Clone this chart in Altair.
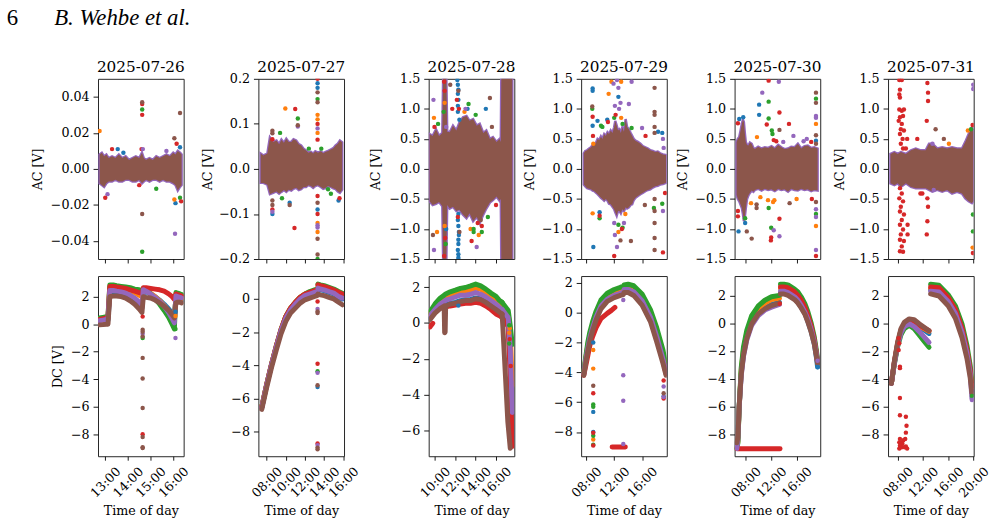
import altair as alt
import pandas as pd

SERIES = ["blue", "orange", "green", "red", "purple", "brown"]
COLORS = ["#1f77b4", "#ff7f0e", "#2ca02c", "#d62728", "#9467bd", "#8c564b"]
DAYS = ["2025-07-26", "2025-07-27", "2025-07-28", "2025-07-29", "2025-07-30", "2025-07-31"]

X_DOMAINS = [[12.68, 16.46], [7.14, 16.07], [9.38, 17.8], [7.25, 19.55], [6.24, 19.72], [6.48, 20.02]]
X_TICKS = [[13, 14, 15, 16], [8, 10, 12, 14, 16], [10, 12, 14, 16], [8, 12, 16], [8, 12, 16], [8, 12, 16, 20]]
AC_DOMAINS = [[-0.05, 0.05], [-0.2, 0.2], [-1.5, 1.5], [-1.5, 1.5], [-1.5, 1.5], [-1.5, 1.5]]
AC_BIG = [-1.5, -1.0, -0.5, 0.0, 0.5, 1.0, 1.5]
AC_TICKS = [[-0.04, -0.02, 0.0, 0.02, 0.04], [-0.2, -0.1, 0.0, 0.1, 0.2], AC_BIG, AC_BIG, AC_BIG, AC_BIG]
AC_FORMATS = [".2f", ".1f", ".1f", ".1f", ".1f", ".1f"]
DC_DOMAINS = [[-9.6, 3.5], [-9.47, 1.38], [-7.44, 2.62], [-9.62, 2.45], [-9.56, 3.39], [-9.55, 3.44]]
DC_TICKS = [[-8, -6, -4, -2, 0, 2], [-8, -6, -4, -2, 0], [-6, -4, -2, 0, 2],
            [-8, -6, -4, -2, 0, 2], [-8, -6, -4, -2, 0, 2], [-8, -6, -4, -2, 0, 2]]

# ---------------- AC envelopes (dense band) ----------------
AC26_T = [12.75, 12.85, 12.95, 13.05, 13.15, 13.3, 13.45, 13.6, 13.75, 13.9, 14.05, 14.2, 14.35, 14.5, 14.62,
          14.7, 14.8, 14.95, 15.1, 15.25, 15.4, 15.55, 15.7, 15.85, 16.0, 16.1, 16.2, 16.3, 16.37]
AC26_HI = [0.008, 0.009, 0.007, 0.008, 0.006, 0.007, 0.006, 0.008, 0.006, 0.007, 0.005, 0.006, 0.007, 0.006, 0.009,
           0.006, 0.005, 0.006, 0.005, 0.007, 0.006, 0.007, 0.008, 0.007, 0.009, 0.008, 0.010, 0.009, 0.008]
AC26_LO = [-0.008, -0.009, -0.010, -0.008, -0.007, -0.007, -0.006, -0.007, -0.007, -0.006, -0.006, -0.007, -0.007,
           -0.006, -0.008, -0.007, -0.006, -0.007, -0.006, -0.006, -0.007, -0.006, -0.007, -0.007, -0.008, -0.009,
           -0.012, -0.010, -0.009]

AC27_T = [7.38, 7.66, 8.07, 8.34, 8.68, 9.03, 9.3, 9.54, 9.8, 10.05, 10.3, 10.57, 10.8, 11.08, 11.35, 11.6, 11.85,
          12.11, 12.35, 12.62, 12.85, 13.07, 13.35, 13.65, 13.9, 14.16, 14.4, 14.68, 14.95, 15.19, 15.42, 15.64, 15.88]
AC27_HI = [0.034, 0.03, 0.034, 0.07, 0.06, 0.063, 0.055, 0.065, 0.058, 0.067, 0.06, 0.06, 0.066, 0.063, 0.055,
           0.052, 0.045, 0.041, 0.036, 0.038, 0.034, 0.039, 0.036, 0.039, 0.035, 0.038, 0.04, 0.043, 0.046, 0.052,
           0.056, 0.063, 0.059]
AC27_LO = [-0.031, -0.031, -0.035, -0.056, -0.053, -0.05, -0.055, -0.051, -0.047, -0.051, -0.046, -0.048, -0.044,
           -0.042, -0.047, -0.045, -0.04, -0.04, -0.036, -0.038, -0.042, -0.038, -0.036, -0.04, -0.044, -0.042,
           -0.038, -0.04, -0.043, -0.045, -0.05, -0.053, -0.046]

AC28_T = [9.47, 9.77, 10.1, 10.4, 10.72, 10.8, 11.12, 11.2, 11.45, 11.77, 12.1, 12.4, 12.75, 13.1, 13.4, 13.75,
          14.1, 14.4, 14.75, 15.05, 15.4, 15.7, 16.05, 16.35, 16.47, 16.52, 17.6]
AC28_HI = [0.58, 0.55, 0.66, 0.55, 0.6, 1.5, 1.5, 0.62, 0.61, 0.72, 0.64, 0.77, 0.86, 0.88, 0.8, 0.83, 0.72, 0.75,
           0.6, 0.64, 0.5, 0.53, 0.45, 0.5, 0.45, 1.5, 1.5]
AC28_LO = [-0.54, -0.6, -0.58, -0.55, -0.62, -1.5, -1.5, -0.6, -0.66, -0.63, -0.7, -0.68, -0.76, -0.82, -0.74, -0.87,
           -0.8, -0.9, -0.76, -0.66, -0.56, -0.52, -0.46, -0.53, -0.5, -1.5, -1.5]

AC29_T = [7.63, 7.85, 8.1, 8.4, 8.67, 8.9, 9.14, 9.4, 9.61, 9.85, 10.09, 10.3, 10.56, 10.8, 11.03, 11.25, 11.5,
          11.75, 11.98, 12.15, 12.36, 12.55, 12.74, 12.95, 13.16, 13.4, 13.64, 13.85, 14.11, 14.35, 14.58, 14.8,
          15.06, 15.4, 15.77, 16.1, 16.48, 16.85, 17.19, 17.55, 17.9, 18.25, 18.6, 19.0, 19.45]
AC29_HI = [0.26, 0.3, 0.31, 0.34, 0.36, 0.4, 0.42, 0.44, 0.5, 0.48, 0.54, 0.5, 0.58, 0.55, 0.61, 0.58, 0.64,
           0.6, 0.69, 0.8, 0.72, 0.64, 0.66, 0.6, 0.69, 0.62, 0.83, 0.7, 0.66, 0.6, 0.55, 0.5, 0.47, 0.45, 0.42,
           0.38, 0.36, 0.34, 0.31, 0.3, 0.28, 0.29, 0.26, 0.24, 0.23]
AC29_LO = [-0.26, -0.29, -0.32, -0.33, -0.34, -0.36, -0.37, -0.4, -0.42, -0.45, -0.48, -0.5, -0.53, -0.5, -0.53,
           -0.58, -0.59, -0.63, -0.67, -0.72, -0.78, -0.7, -0.7, -0.74, -0.67, -0.7, -0.64, -0.66, -0.64, -0.6,
           -0.59, -0.52, -0.48, -0.45, -0.42, -0.4, -0.37, -0.35, -0.34, -0.31, -0.29, -0.28, -0.26, -0.25, -0.23]

AC30_T = [6.55, 6.75, 6.97, 7.2, 7.38, 7.55, 7.7, 7.85, 8.0, 8.2, 8.42, 8.65, 8.93, 9.2, 9.45, 9.95, 10.49, 11.0,
          11.53, 12.05, 12.57, 13.1, 13.6, 14.1, 14.65, 15.15, 15.68, 16.2, 16.72, 17.25, 17.76, 18.3, 18.79, 19.31]
AC30_HI = [0.45, 0.5, 0.53, 0.65, 0.75, 0.82, 0.78, 0.6, 0.45, 0.4, 0.39, 0.44, 0.42, 0.35, 0.33, 0.37, 0.34, 0.36,
           0.35, 0.38, 0.34, 0.4, 0.36, 0.33, 0.34, 0.37, 0.36, 0.42, 0.34, 0.38, 0.39, 0.35, 0.36, 0.34]
AC30_LO = [-0.43, -0.5, -0.54, -0.6, -0.65, -0.75, -0.87, -0.8, -0.66, -0.5, -0.44, -0.4, -0.36, -0.38, -0.35,
           -0.33, -0.36, -0.33, -0.35, -0.34, -0.37, -0.33, -0.35, -0.34, -0.38, -0.33, -0.35, -0.36, -0.33, -0.35,
           -0.34, -0.37, -0.35, -0.36]

AC31_T = [6.86, 7.48, 8.0, 8.52, 9.3, 10.1, 10.86, 11.65, 12.43, 12.96, 13.48, 14.26, 15.04, 15.82, 16.6, 17.38,
          18.17, 18.69, 19.22, 19.74, 19.95]
AC31_HI = [0.25, 0.28, 0.25, 0.28, 0.25, 0.31, 0.34, 0.31, 0.31, 0.42, 0.42, 0.34, 0.36, 0.34, 0.36, 0.34, 0.34,
           0.45, 0.58, 0.69, 0.66]
AC31_LO = [-0.24, -0.27, -0.24, -0.3, -0.24, -0.3, -0.32, -0.32, -0.32, -0.35, -0.38, -0.35, -0.38, -0.35, -0.41,
           -0.38, -0.41, -0.49, -0.54, -0.57, -0.54]

# ---------------- AC outliers ----------------
AC26_PTS = [(12.75, 0.021, "orange"), (13.0, -0.016, "red"), (13.1, -0.014, "purple"), (13.3, 0.011, "red"),
            (13.55, 0.011, "blue"), (13.8, 0.009, "blue"), (14.6, 0.011, "red"), (14.66, 0.011, "purple"),
            (14.5, -0.009, "red"), (15.25, -0.011, "green"), (15.7, 0.010, "purple"), (16.05, -0.017, "orange"),
            (16.1, -0.019, "blue"), (16.08, -0.036, "purple"), (16.3, -0.016, "green"), (16.35, -0.018, "red"),
            (16.15, 0.014, "red"), (16.3, 0.012, "blue"), (16.05, 0.017, "brown"), (16.3, 0.031, "brown"),
            (14.63, 0.033, "green"), (14.63, 0.030, "red"), (14.63, 0.036, "red"), (14.63, 0.037, "brown"),
            (14.63, -0.025, "brown"), (14.63, -0.046, "green")]
AC27_PTS = [(8.6, 0.085, "brown"), (8.6, 0.079, "brown"), (8.6, 0.066, "red"), (8.6, -0.07, "brown"),
            (8.6, -0.08, "brown"), (8.6, -0.09, "red"), (8.6, -0.1, "blue"), (8.6, -0.095, "purple"),
            (9.95, 0.134, "orange"), (9.4, 0.08, "green"), (10.98, 0.133, "red"), (11.25, 0.112, "green"),
            (11.25, 0.097, "brown"), (11.25, 0.094, "purple"), (10.9, -0.131, "red"), (10.4, -0.075, "blue"),
            (10.4, -0.08, "brown"), (9.6, -0.065, "green"), (13.31, 0.2, "red"), (13.31, 0.19, "blue"),
            (13.31, 0.18, "blue"), (13.31, 0.17, "brown"), (13.31, 0.155, "green"), (13.31, 0.148, "brown"),
            (13.31, 0.12, "orange"), (13.31, 0.11, "orange"), (13.31, 0.1, "red"), (13.31, 0.09, "purple"),
            (13.31, 0.08, "orange"), (13.31, 0.065, "red"), (13.31, -0.06, "red"), (13.31, -0.075, "brown"),
            (13.31, -0.09, "blue"), (13.31, -0.1, "red"), (13.31, -0.12, "orange"), (13.31, -0.125, "purple"),
            (13.31, -0.13, "purple"), (13.31, -0.14, "orange"), (13.31, -0.155, "brown"), (13.31, -0.19, "brown"),
            (13.31, -0.2, "green"), (14.4, -0.045, "green"), (14.7, -0.055, "green"), (15.5, -0.07, "blue"),
            (15.6, -0.065, "red"), (13.7, 0.045, "green"), (12.4, 0.045, "green")]
AC28_PTS = [(9.85, 1.15, "purple"), (9.9, 0.85, "orange"), (9.95, 0.7, "red"), (9.8, -1.1, "brown"),
            (9.9, -1.35, "purple"), (10.2, -1.05, "orange"), (10.3, 0.75, "green"), (10.9, 1.45, "red"),
            (10.95, 1.3, "red"), (10.95, 1.1, "orange"), (10.85, 0.95, "green"), (11.0, -1.15, "red"),
            (11.05, -1.25, "green"), (10.9, -1.45, "red"), (10.95, -0.95, "orange"), (11.5, 1.4, "brown"),
            (11.7, 1.0, "red"), (12.2, 1.48, "blue"), (12.25, 1.4, "blue"), (12.3, 1.32, "blue"),
            (12.25, 1.25, "blue"), (12.3, 1.15, "blue"), (12.25, 1.05, "blue"), (12.25, 0.95, "blue"),
            (12.4, 0.82, "blue"), (12.3, 1.3, "brown"), (12.15, 1.15, "red"), (12.35, 1.0, "red"),
            (12.3, -0.75, "blue"), (12.25, -0.85, "blue"), (12.3, -0.95, "blue"), (12.35, -1.05, "blue"),
            (12.35, -1.1, "blue"), (12.3, -1.18, "blue"), (12.3, -1.25, "blue"), (12.25, -1.35, "blue"),
            (12.3, -1.42, "blue"), (12.3, -1.48, "blue"), (12.25, -0.8, "red"), (12.4, -1.05, "brown"),
            (12.9, 0.95, "orange"), (13.2, 1.0, "blue"), (13.3, 1.08, "green"), (13.0, 1.0, "purple"),
            (13.8, -1.0, "green"), (13.8, -1.05, "green"), (14.1, -1.3, "purple"), (14.2, -0.9, "red"),
            (14.5, -0.85, "brown"), (14.0, 0.9, "green"), (14.3, -1.1, "orange"), (15.0, 1.0, "blue"),
            (15.4, 1.18, "brown"), (15.6, 0.7, "brown"), (15.2, -0.8, "green"), (16.0, -0.6, "red"),
            (13.6, -1.2, "red"), (11.1, -1.0, "blue"), (11.1, 0.7, "purple"), (14.6, -0.95, "red"),
            (14.6, -1.05, "green"), (13.5, -1.0, "orange")]
AC29_PTS = [(8.9, 1.34, "blue"), (8.9, 1.30, "blue"), (8.85, 1.04, "brown"), (8.85, 1.0, "green"),
            (8.9, 0.87, "red"), (8.9, 0.72, "blue"), (8.95, 0.55, "red"), (9.0, 0.42, "orange"),
            (8.9, -0.74, "orange"), (9.0, -1.3, "blue"), (9.9, -0.72, "blue"), (9.9, -0.78, "red"),
            (9.9, -0.82, "green"), (9.6, 0.8, "blue"), (10.1, 0.72, "green"), (10.3, 0.7, "green"),
            (11.0, 0.82, "blue"), (11.1, 0.78, "red"), (11.2, 1.25, "orange"), (11.6, 1.45, "orange"),
            (11.9, 1.42, "purple"), (12.4, 1.48, "purple"), (12.6, 1.35, "purple"), (12.6, 1.2, "blue"),
            (12.1, 1.05, "purple"), (12.7, 1.0, "purple"), (12.9, 1.1, "purple"), (12.2, 0.9, "red"),
            (12.0, 0.85, "green"), (13.0, 0.85, "orange"), (13.2, 0.75, "green"), (12.0, -0.9, "purple"),
            (12.1, -1.1, "purple"), (12.4, -1.3, "purple"), (12.0, -1.45, "red"), (12.6, -1.05, "orange"),
            (12.6, -0.93, "green"), (13.1, -1.0, "red"), (13.2, -0.98, "green"), (12.9, -1.19, "brown"),
            (13.4, -0.9, "purple"), (13.6, -0.75, "orange"), (14.4, -1.2, "brown"), (14.5, 0.68, "green"),
            (14.5, 1.45, "purple"), (14.1, 1.08, "purple"), (13.0, 1.45, "orange"), (16.0, 0.68, "purple"),
            (16.4, -0.6, "brown"), (16.5, 0.55, "red"), (17.8, 1.35, "brown"), (17.8, 0.95, "brown"),
            (17.8, 0.9, "brown"), (17.8, 0.7, "brown"), (17.8, 0.6, "brown"), (17.8, -0.5, "brown"),
            (17.8, -0.7, "brown"), (17.8, -0.9, "brown"), (17.8, -1.15, "brown"), (17.8, -1.35, "brown"),
            (17.7, -0.65, "green"), (18.3, 0.62, "blue"), (18.9, 0.6, "blue"), (19.0, 0.5, "purple"),
            (19.1, 0.35, "purple"), (19.0, -0.7, "purple"), (19.3, -0.4, "red"), (19.0, -1.39, "red"),
            (18.9, -0.58, "green")]
AC30_PTS = [(6.76, 0.76, "red"), (6.97, 0.83, "blue"), (7.6, 0.86, "blue"), (6.76, -0.7, "red"),
            (6.76, -0.79, "red"), (6.86, -1.04, "blue"), (7.9, -0.82, "green"), (7.9, -0.9, "blue"),
            (8.16, -1.04, "brown"), (8.83, -0.57, "orange"), (9.7, -0.59, "brown"), (9.7, -0.65, "brown"),
            (8.93, -1.16, "brown"), (9.76, 0.53, "orange"), (10.1, 0.9, "blue"), (10.1, 1.07, "blue"),
            (10.6, 1.27, "purple"), (11.6, 1.12, "green"), (11.6, 0.84, "green"), (12.1, 0.64, "green"),
            (12.2, 0.58, "green"), (11.3, 0.74, "red"), (11.6, 1.47, "red"), (12.0, -0.98, "green"),
            (11.6, -0.65, "green"), (12.0, -1.14, "red"), (11.95, -1.19, "red"), (12.4, -1.02, "purple"),
            (13.2, 1.45, "purple"), (13.3, 0.94, "red"), (13.3, 0.65, "brown"), (13.3, -0.83, "red"),
            (13.3, -1.12, "purple"), (14.8, 0.75, "red"), (12.8, 0.46, "red"), (11.5, -0.52, "orange"),
            (12.5, -0.52, "orange"), (14.9, -0.57, "brown"), (15.5, 0.55, "purple"), (13.9, 0.45, "purple"),
            (19.05, 1.27, "brown"), (19.05, 1.17, "green"), (19.05, 1.1, "brown"), (19.05, 0.88, "purple"),
            (19.05, 0.85, "purple"), (19.05, 0.75, "orange"), (19.05, 0.56, "brown"), (19.05, 0.47, "blue"),
            (19.05, 0.42, "brown"), (19.05, -0.55, "brown"), (19.05, -0.67, "purple"), (19.05, -0.75, "green"),
            (19.05, -0.8, "purple"), (19.05, -0.95, "orange"), (19.05, -1.35, "purple"), (19.05, -1.45, "red"),
            (16.0, -0.5, "orange"), (17.6, 0.5, "purple"), (18.3, 0.45, "red"), (10.3, -0.47, "orange"),
            (12.3, -0.55, "orange"), (12.4, 0.48, "red"), (17.1, 0.46, "purple"), (18.4, -0.5, "red")]
AC31_PTS = [(8.26, 1.48, "red"), (8.65, 1.48, "red"), (8.36, 1.32, "red"), (8.26, 1.24, "red"),
            (8.36, 1.19, "red"), (8.26, 0.99, "red"), (8.65, 0.97, "red"), (8.99, 0.99, "red"),
            (8.85, 0.88, "red"), (8.36, 0.86, "red"), (8.16, 0.8, "red"), (8.65, 0.75, "red"),
            (8.5, 0.66, "red"), (8.99, 0.64, "red"), (8.36, 0.58, "red"), (8.78, 0.5, "red"),
            (8.5, 0.42, "red"), (8.85, 0.34, "red"), (9.3, 0.34, "red"), (8.36, -0.32, "red"),
            (8.65, -0.41, "red"), (8.26, -0.49, "red"), (8.85, -0.54, "red"), (8.5, -0.63, "red"),
            (8.36, -0.71, "red"), (8.99, -0.76, "red"), (8.65, -0.85, "red"), (8.36, -0.93, "red"),
            (8.85, -1.01, "red"), (8.5, -1.09, "red"), (8.36, -1.18, "red"), (8.99, -1.2, "red"),
            (8.65, -1.29, "red"), (8.36, -1.37, "red"), (8.85, -1.38, "red"), (9.57, -1.09, "red"),
            (9.57, -0.93, "red"), (9.5, 0.5, "red"), (12.7, 1.43, "red"), (12.8, 1.27, "red"),
            (12.8, 1.13, "red"), (12.6, 0.8, "red"), (12.7, -0.49, "red"), (12.8, -0.63, "red"),
            (12.7, -0.87, "red"), (12.6, -1.09, "red"), (11.6, -0.41, "red"), (11.9, -0.41, "red"),
            (11.1, 0.5, "red"), (14.0, 0.66, "brown"), (13.5, 0.42, "purple"), (13.7, -0.35, "purple"),
            (15.3, 0.5, "brown"), (16.1, 0.42, "orange"), (19.95, 1.4, "purple"), (19.95, 1.33, "purple"),
            (19.9, -0.76, "green"), (19.9, -1.04, "green"), (19.85, -1.31, "orange"), (19.9, -1.4, "red"),
            (19.85, 0.73, "red"), (19.6, 0.66, "green"), (19.1, 0.64, "orange")]

# ---------------- DC curves: (times, {series: values}) per segment ----------------
DC26_T = [12.75, 12.9, 13.05, 13.12, 13.2, 13.35, 13.5, 13.7, 13.9, 14.1, 14.3, 14.5, 14.62, 14.68, 14.8, 15.0,
          15.2, 15.4, 15.6, 15.8, 15.95, 16.05, 16.12, 16.2, 16.3, 16.37]
DC26_V = {
    "blue": [0.1, 0.15, 0.2, 0.3, 2.25, 2.3, 2.25, 2.2, 2.1, 1.95, 1.75, 1.45, 1.2, 2.4, 2.35, 2.2, 2.0, 1.75, 1.45,
             1.1, 0.8, 0.6, 1.9, 1.85, 1.8, 1.75],
    "orange": [0.2, 0.25, 0.3, 0.4, 2.65, 2.65, 2.6, 2.55, 2.5, 2.4, 2.3, 2.1, 2.0, 2.55, 2.45, 2.25, 2.0, 1.7, 1.35,
               0.95, 0.6, 0.4, 2.0, 1.95, 1.9, 1.85],
    "green": [0.45, 0.5, 0.55, 0.6, 2.85, 2.85, 2.8, 2.75, 2.7, 2.65, 2.55, 2.5, 2.45, 2.6, 2.5, 2.2, 1.85, 1.45, 1.0,
              0.5, 0.0, -0.35, 2.3, 2.25, 2.2, 2.15],
    "red": [0.35, 0.4, 0.45, 0.5, 2.75, 2.75, 2.7, 2.65, 2.6, 2.5, 2.4, 2.3, 2.25, 2.65, 2.65, 2.6, 2.55, 2.5, 2.4,
            2.2, 2.0, 1.8, 2.2, 2.15, 2.1, 2.05],
    "purple": [0.25, 0.3, 0.35, 0.4, 2.45, 2.45, 2.4, 2.35, 2.25, 2.1, 1.9, 1.6, 1.35, 2.5, 2.4, 2.2, 1.95, 1.65, 1.3,
               0.85, 0.4, 0.1, 2.05, 2.0, 1.95, 1.9],
    "brown": [-0.05, -0.03, 0.0, 0.0, 2.0, 2.05, 2.05, 2.0, 1.9, 1.7, 1.45, 1.1, 0.85, 2.0, 1.95, 1.9, 1.75, 1.55, 1.3,
              1.0, 0.7, 0.45, 1.55, 1.6, 1.6, 1.55],
}
DC26_SEGS = [(DC26_T, DC26_V)]

DC27A_T = [7.49, 8.0, 8.5, 9.0, 9.5, 10.0, 10.5, 11.0, 11.5, 12.0, 12.5, 13.0, 13.25]
DC27A_V = {
    "blue": [-6.55, -5.2, -4.0, -2.9, -1.9, -1.1, -0.6, -0.25, 0.05, 0.25, 0.35, 0.45, 0.5],
    "orange": [-6.5, -5.15, -3.95, -2.85, -1.85, -1.05, -0.55, -0.2, 0.1, 0.3, 0.4, 0.5, 0.55],
    "green": [-6.5, -5.15, -3.95, -2.85, -1.85, -1.05, -0.55, -0.2, 0.1, 0.3, 0.45, 0.55, 0.6],
    "red": [-6.5, -5.15, -3.95, -2.85, -1.85, -1.05, -0.55, -0.2, 0.1, 0.3, 0.4, 0.5, 0.55],
    "purple": [-6.55, -5.2, -4.0, -2.9, -1.9, -1.15, -0.65, -0.3, 0.0, 0.2, 0.3, 0.4, 0.45],
    "brown": [-6.65, -5.35, -4.15, -3.1, -2.1, -1.35, -0.85, -0.55, -0.25, -0.05, 0.05, 0.15, 0.2],
}
DC27B_T = [13.35, 13.6, 14.0, 14.5, 15.0, 15.5, 15.9]
DC27B_V = {
    "blue": [0.6, 0.55, 0.5, 0.4, 0.3, 0.1, 0.0],
    "orange": [0.75, 0.7, 0.65, 0.55, 0.45, 0.3, 0.2],
    "green": [0.9, 0.85, 0.8, 0.7, 0.6, 0.45, 0.35],
    "red": [0.85, 0.8, 0.75, 0.65, 0.55, 0.4, 0.3],
    "purple": [0.65, 0.6, 0.55, 0.45, 0.35, 0.15, 0.05],
    "brown": [0.3, 0.25, 0.2, 0.1, 0.0, -0.2, -0.35],
}
DC27_SEGS = [(DC27A_T, DC27A_V), (DC27B_T, DC27B_V)]

DC28_T = [9.45, 9.52, 10.0, 10.5, 10.9, 10.95, 11.0, 11.05, 11.5, 12.0, 12.5, 13.0, 13.5, 14.0, 14.5, 15.0, 15.5,
          16.0, 16.35, 16.6]
DC28_V = {
    "blue": [0.25, 0.28, 0.6, 0.85, 1.0, 1.0, 1.0, 1.0, 1.1, 1.15, 1.25, 1.3, 1.3, 1.4, 1.35, 1.2, 1.0, 0.8, 0.65, 0.55],
    "orange": [0.5, 0.55, 0.9, 1.2, 1.38, 1.4, 1.42, 1.45, 1.58, 1.65, 1.75, 1.78, 1.85, 1.95, 1.88, 1.72, 1.5, 1.3,
               1.1, 1.0],
    "green": [0.6, 0.64, 1.06, 1.38, 1.55, 1.58, 1.6, 1.62, 1.74, 1.83, 1.93, 1.98, 2.07, 2.17, 2.07, 1.89, 1.67,
              1.49, 1.25, 1.15],
    "purple": [0.4, 0.42, 0.75, 1.05, 1.2, 1.22, 1.25, 1.27, 1.35, 1.45, 1.55, 1.55, 1.6, 1.7, 1.6, 1.45, 1.25, 1.05,
               0.85, 0.75],
    "brown": [0.18, 0.2, 0.55, 0.8, 0.95, -0.55, -0.5, 0.95, 1.05, 1.1, 1.2, 1.25, 1.25, 1.35, 1.3, 1.15, 0.95, 0.75,
              0.6, 0.5],
}
DC28R1_T = [9.52, 9.6, 9.7, 9.78]
DC28R1_V = {"red": [-0.22, -0.15, -0.08, -0.02]}
DC28R2_T = [11.1, 11.5, 12.0, 12.5, 13.0, 13.5, 14.0, 14.5, 15.0, 15.5, 16.0, 16.35, 16.6]
DC28R2_V = {"red": [0.9, 0.95, 1.0, 1.05, 1.1, 1.1, 1.15, 1.1, 0.95, 0.75, 0.5, 0.4, 0.3]}
DC28D_T = [16.6, 17.2, 17.4, 17.6]
DC28D_V = {
    "blue": [0.55, 0.1, -2.5, -6.5],
    "orange": [1.0, 0.5, -0.4, -3.5],
    "green": [1.15, 0.7, -0.15, -1.2],
    "red": [0.3, -0.2, -3.0, -6.9],
    "purple": [0.75, 0.3, -1.5, -5.0],
}
DC28B_T = [16.6, 16.68, 16.94, 17.16, 17.4]
DC28B_V = {"brown": [0.5, -0.3, -3.1, -5.5, -7.0]}
DC28_SEGS = [(DC28_T, DC28_V), (DC28R1_T, DC28R1_V), (DC28R2_T, DC28R2_V), (DC28D_T, DC28D_V), (DC28B_T, DC28B_V)]

DC29_T = [7.63, 7.9, 8.2, 8.5, 8.9, 9.4, 10.1, 11.0, 12.0, 12.9, 13.3, 13.4, 14.0, 14.8, 16.0, 17.2, 18.1, 19.0, 19.45]
DC29_V = {
    "blue": [-4.1, -3.2, -2.4, -1.7, -1.0, -0.3, 0.45, 0.9, 1.15, 1.3, 1.35, 1.5, 1.5, 1.35, 0.75, -0.35, -1.6, -3.1,
             -4.0],
    "orange": [-4.05, -3.1, -2.2, -1.5, -0.8, -0.1, 0.65, 1.1, 1.35, 1.45, 1.5, 1.6, 1.65, 1.55, 1.0, -0.05, -1.3,
               -2.8, -3.8],
    "green": [-4.0, -3.0, -2.0, -1.3, -0.6, 0.1, 0.85, 1.3, 1.55, 1.7, 1.75, 1.85, 1.9, 1.8, 1.25, 0.2, -1.0, -2.5,
              -3.6],
    "purple": [-4.1, -3.2, -2.4, -1.7, -1.0, -0.3, 0.45, 0.9, 1.15, 1.3, 1.35, 1.55, 1.55, 1.4, 0.8, -0.3, -1.6, -3.1,
               -4.0],
    "brown": [-4.2, -3.4, -2.6, -1.9, -1.2, -0.5, 0.25, 0.75, 1.0, 1.15, 1.2, 1.35, 1.35, 1.15, 0.5, -0.6, -1.95,
              -3.4, -4.2],
}
DC29RA_T = [7.63, 7.9, 8.2, 8.5, 8.9, 9.4, 10.1, 11.0, 11.6, 12.1]
DC29RA_V = {"red": [-4.2, -3.6, -2.9, -2.2, -1.6, -1.0, -0.4, -0.05, 0.15, 0.35]}
DC29RB_T = [11.7, 13.6]
DC29RB_V = {"red": [-9.0, -9.0]}
DC29RC_T = [13.6, 14.0, 14.8, 16.0, 17.2, 18.1, 19.0, 19.45]
DC29RC_V = {"red": [1.5, 1.5, 1.35, 0.75, -0.35, -1.7, -3.2, -4.1]}
DC29_SEGS = [(DC29_T, DC29_V), (DC29RA_T, DC29RA_V), (DC29RB_T, DC29RB_V), (DC29RC_T, DC29RC_V)]

DC30A_T = [6.6, 6.76, 6.97, 7.28, 7.64, 8.16, 8.93, 9.97, 11.0, 12.05, 13.3]
DC30A_V = {
    "blue": [-9.0, -8.3, -5.9, -3.6, -2.2, -1.0, 0.05, 0.75, 1.1, 1.35, 1.5],
    "orange": [-9.0, -8.5, -6.0, -3.4, -1.9, -0.7, 0.35, 1.05, 1.45, 1.7, 1.8],
    "green": [-9.0, -8.6, -6.0, -3.2, -1.7, -0.5, 0.55, 1.25, 1.65, 1.9, 2.0],
    "purple": [-9.0, -8.3, -6.0, -3.8, -2.4, -1.2, -0.15, 0.55, 0.95, 1.15, 1.35],
    "brown": [-8.6, -8.2, -5.85, -3.7, -2.3, -1.1, -0.05, 0.67, 1.03, 1.27, 1.45],
}
DC30R_T = [6.6, 13.4]
DC30R_V = {"red": [-9.02, -9.02]}
DC30B_T = [13.45, 14.0, 14.65, 15.68, 16.2, 16.72, 17.3, 17.76, 18.3, 18.79, 19.1, 19.3]
DC30B_V = {
    "blue": [2.15, 2.15, 2.05, 1.75, 1.5, 1.15, 0.7, 0.15, -0.6, -1.5, -2.4, -3.15],
    "orange": [2.5, 2.5, 2.45, 2.15, 1.9, 1.55, 1.05, 0.5, -0.3, -1.3, -2.2, -2.8],
    "green": [2.8, 2.8, 2.75, 2.45, 2.25, 1.9, 1.4, 0.85, 0.0, -1.0, -1.9, -2.6],
    "red": [2.6, 2.6, 2.55, 2.25, 2.0, 1.65, 1.15, 0.6, -0.2, -1.2, -2.1, -2.75],
    "purple": [2.3, 2.3, 2.2, 1.9, 1.65, 1.3, 0.8, 0.3, -0.45, -1.35, -2.2, -2.75],
    "brown": [2.1, 2.1, 2.0, 1.7, 1.45, 1.1, 0.65, 0.1, -0.65, -1.5, -2.35, -2.9],
}
DC30_SEGS = [(DC30A_T, DC30A_V), (DC30R_T, DC30R_V), (DC30B_T, DC30B_V)]

DC31A_T = [7.01, 7.48, 8.0, 8.52, 9.04, 9.83, 10.61, 11.4, 12.18, 12.96]
DC31A_V = {
    "blue": [-4.25, -2.8, -1.5, -0.55, -0.1, 0.15, 0.05, -0.25, -0.45, -0.7],
    "orange": [-4.3, -2.8, -1.45, -0.5, -0.05, 0.2, 0.15, -0.15, -0.35, -0.55],
    "green": [-4.3, -2.9, -1.65, -0.8, -0.35, -0.1, -0.35, -0.8, -1.25, -1.7],
    "red": [-4.3, -2.75, -1.4, -0.45, 0.0, 0.25, 0.2, -0.1, -0.3, -0.5],
    "purple": [-4.3, -2.85, -1.55, -0.65, -0.2, 0.0, -0.2, -0.55, -0.95, -1.35],
    "brown": [-4.3, -2.7, -1.3, -0.35, 0.1, 0.35, 0.3, 0.0, -0.25, -0.5],
}
DC31B_T = [13.21, 14.53, 15.98, 17.12, 18.17, 18.95, 19.47, 19.74]
DC31B_V = {
    "blue": [2.45, 2.4, 1.7, 0.85, -0.5, -2.05, -3.5, -4.8],
    "orange": [2.55, 2.5, 1.8, 0.95, -0.4, -1.95, -3.4, -4.6],
    "green": [2.85, 2.78, 2.1, 1.3, 0.0, -1.55, -3.0, -4.15],
    "red": [2.65, 2.6, 1.9, 1.05, -0.3, -1.85, -3.3, -4.5],
    "purple": [2.35, 2.3, 1.6, 0.75, -0.6, -2.1, -3.6, -5.4],
    "brown": [2.15, 2.0, 1.3, 0.4, -1.0, -2.5, -3.9, -5.0],
}
DC31_SEGS = [(DC31A_T, DC31A_V), (DC31B_T, DC31B_V)]

# ---------------- DC outliers ----------------
DC26_PTS = [(14.65, 0.55, "red"), (14.65, -0.4, "brown"), (14.65, -0.55, "brown"), (14.65, -0.7, "purple"),
            (14.65, -1.0, "green"), (14.65, -0.9, "brown"), (14.65, -2.45, "brown"), (14.65, -3.95, "brown"),
            (14.65, -6.1, "brown"), (14.65, -8.0, "red"), (14.65, -8.2, "brown"), (14.65, -8.95, "brown"),
            (14.65, -9.0, "brown"), (16.1, 0.9, "blue"), (16.1, 0.6, "orange"), (16.1, -1.0, "purple"),
            (16.1, -0.35, "green")]
DC27_PTS = [(13.31, -0.15, "red"), (13.31, -0.6, "purple"), (13.31, -0.75, "brown"), (13.31, -0.85, "brown"),
            (13.31, -3.9, "red"), (13.31, -4.35, "green"), (13.31, -4.45, "purple"), (13.31, -5.2, "brown"),
            (13.31, -5.3, "blue"), (13.31, -8.7, "red"), (13.31, -8.8, "purple"), (13.31, -8.95, "brown"),
            (13.31, -9.05, "brown")]
DC28_PTS = [(17.3, -0.13, "green"), (17.3, -1.15, "green"), (17.35, -0.3, "orange"), (17.35, -0.9, "red"),
            (17.3, -0.55, "orange"), (17.4, -1.6, "purple"), (17.45, -2.4, "red"), (17.5, -3.3, "purple"),
            (12.3, 0.97, "blue")]
DC29_PTS = [(8.99, -2.0, "blue"), (8.99, -2.5, "orange"), (8.99, -3.75, "orange"), (8.99, -4.9, "brown"),
            (8.99, -5.4, "red"), (8.99, -6.15, "green"), (8.99, -6.3, "green"), (8.99, -6.65, "blue"),
            (8.99, -8.0, "blue"), (8.99, -8.05, "red"), (8.99, -8.25, "green"), (8.99, -8.5, "orange"),
            (8.99, -8.85, "green"), (8.99, -8.9, "red"), (13.3, 0.85, "purple"), (13.3, -4.2, "purple"),
            (13.3, -5.9, "purple"), (13.3, -8.8, "purple"), (19.1, -4.55, "red"), (19.1, -4.95, "purple"),
            (19.1, -5.4, "brown"), (19.1, -5.6, "blue"), (19.1, -5.65, "purple"), (19.1, -5.75, "red")]
DC30_PTS = [(19.3, -3.15, "blue"), (19.3, -2.7, "purple"), (13.35, 1.4, "red")]
DC31_PTS = [(8.16, -1.05, "red"), (8.26, -1.4, "red"), (8.16, -1.9, "red"), (8.36, -3.1, "red"),
            (8.36, -3.2, "red"), (8.36, -5.35, "red"), (8.36, -6.6, "red"), (9.3, -6.7, "red"),
            (9.4, -7.35, "red"), (9.3, -7.85, "red"), (9.2, -8.3, "red"), (8.36, -8.3, "red"),
            (8.26, -8.55, "red"), (8.5, -8.6, "red"), (8.75, -8.65, "red"), (8.36, -8.8, "red"),
            (8.65, -8.9, "red"), (9.1, -8.9, "red"), (9.3, -8.85, "red"), (8.26, -9.0, "red"),
            (9.5, -9.0, "red"), (8.9, -8.4, "red"), (19.74, -5.2, "green"), (19.74, -5.5, "purple")]

AC_T = [AC26_T, AC27_T, AC28_T, AC29_T, AC30_T, AC31_T]
AC_HI = [AC26_HI, AC27_HI, AC28_HI, AC29_HI, AC30_HI, AC31_HI]
AC_LO = [AC26_LO, AC27_LO, AC28_LO, AC29_LO, AC30_LO, AC31_LO]
AC_PTS = [AC26_PTS, AC27_PTS, AC28_PTS, AC29_PTS, AC30_PTS, AC31_PTS]
DC_SEGS = [DC26_SEGS, DC27_SEGS, DC28_SEGS, DC29_SEGS, DC30_SEGS, DC31_SEGS]
DC_PTS = [DC26_PTS, DC27_PTS, DC28_PTS, DC29_PTS, DC30_PTS, DC31_PTS]

# ---------------- layout constants ----------------
W, H = 86.5, 182
LEFT = [98.3, 62, 62, 62, 62, 62]          # reserved space left of each plot
RIGHT = [11.5, 21.5, 3.2, 4.2, 4.1, 0]     # reserved space right of each plot
TOP = 76.3
AC_TITLE_OFF = [54.2, 44.7, 46.9, 44.8, 45.1, 41.9]
DC_TITLE_OFF = 33.6
FONT = "DejaVu Serif"
COLOR_OF = dict(zip(SERIES, COLORS))
ONE = pd.DataFrame({"k": [0]})
cscale = alt.Scale(domain=SERIES, range=COLORS)
LABEL_EXPR = "(datum.value < 10 ? '0' : '') + datum.value + ':00'"


def order_pts(pts):
    df = pd.DataFrame(pts, columns=["t", "v", "s"])
    df["o"] = df["s"].map({s: i for i, s in enumerate(SERIES)})
    return df.sort_values("o", kind="stable").reset_index(drop=True)


def guard(left, right, top, bottom):
    return alt.Chart(ONE).mark_rule(opacity=0, strokeOpacity=0).encode(
        x=alt.value(-left), x2=alt.value(W + right), y=alt.value(-top), y2=alt.value(bottom))


def ac_panel(i):
    xs = alt.Scale(domain=X_DOMAINS[i], nice=False, zero=False)
    ys = alt.Scale(domain=AC_DOMAINS[i], nice=False, zero=False)
    xax = alt.Axis(values=X_TICKS[i], labels=False, title=None, ticks=True, tickSize=4, grid=False, domain=False)
    m = AC_TITLE_OFF[i] - 2
    yax = alt.Axis(values=AC_TICKS[i], format=AC_FORMATS[i], title="AC [V]", minExtent=m, maxExtent=m,
                   titlePadding=2, grid=False, domain=False)
    band = pd.DataFrame({"t": AC_T[i], "hi": AC_HI[i], "lo": AC_LO[i]})
    X = alt.X("t:Q", scale=xs, axis=xax)
    fringe = alt.Chart(band).mark_area(color=COLOR_OF["brown"], stroke=COLOR_OF["purple"], strokeWidth=2.5,
                                       opacity=1, clip=True).encode(
        x=X, y=alt.Y("hi:Q", scale=ys, axis=yax), y2="lo:Q")
    body = alt.Chart(band).mark_area(color=COLOR_OF["brown"], opacity=1, clip=True).encode(
        x=X, y=alt.Y("hi:Q", scale=ys, axis=yax), y2="lo:Q")
    dots = alt.Chart(order_pts(AC_PTS[i])).mark_circle(size=20, opacity=1, clip=True).encode(
        x=X, y=alt.Y("v:Q", scale=ys, axis=yax),
        color=alt.Color("s:N", scale=cscale, legend=None))
    title = alt.Chart(ONE).mark_text(text=DAYS[i], font=FONT, fontSize=15.4, align="center",
                                     baseline="alphabetic", color="black").encode(
        x=alt.value(W / 2), y=alt.value(-7))
    layers = [guard(LEFT[i], RIGHT[i], TOP, H + 8), fringe, body, dots, title]
    if i == 0:
        layers.append(alt.Chart(ONE).mark_text(text="6", font="Liberation Serif", fontSize=23, align="left",
                                               baseline="alphabetic", color="black").encode(
            x=alt.value(-92.3), y=alt.value(-54.6)))
        layers.append(alt.Chart(ONE).mark_text(text="B. Wehbe et al.", font="Liberation Serif", fontSize=23,
                                               fontStyle="italic", align="left", baseline="alphabetic",
                                               color="black").encode(
            x=alt.value(-44.3), y=alt.value(-54.6)))
    return alt.layer(*layers).properties(width=W, height=H)


def dc_panel(i):
    xs = alt.Scale(domain=X_DOMAINS[i], nice=False, zero=False)
    ys = alt.Scale(domain=DC_DOMAINS[i], nice=False, zero=False)
    xax = alt.Axis(values=X_TICKS[i], labelExpr=LABEL_EXPR, labelAngle=-45, labelAlign="center",
                   labelBaseline="middle", labelPadding=22, labelOverlap=False, labelFlush=False, tickSize=4,
                   title="Time of day", titlePadding=5, minExtent=44, maxExtent=44, grid=False, domain=False)
    if i == 0:
        yax = alt.Axis(values=DC_TICKS[i], format="d", title="DC [V]", minExtent=DC_TITLE_OFF - 2,
                       maxExtent=DC_TITLE_OFF - 2, titlePadding=2, grid=False, domain=False)
    else:
        yax = alt.Axis(values=DC_TICKS[i], format="d", title=None, grid=False, domain=False)
    rows = []
    for seg_id, (T, vals) in enumerate(DC_SEGS[i]):
        for s, vs in vals.items():
            for t, v in zip(T, vs):
                rows.append((t, v, s, seg_id))
    lines = pd.DataFrame(rows, columns=["t", "v", "s", "seg"])
    X = alt.X("t:Q", scale=xs, axis=xax)
    Y = alt.Y("v:Q", scale=ys, axis=yax)
    layers = [guard(LEFT[i], RIGHT[i], 3, 10)]
    for s in SERIES:
        layers.append(alt.Chart(lines).transform_filter(alt.datum.s == s).mark_line(
            color=COLOR_OF[s], strokeWidth=5, strokeCap="round", strokeJoin="round", clip=True).encode(
            x=X, y=Y, detail="seg:N", order="t:Q"))
    layers.append(alt.Chart(order_pts(DC_PTS[i])).mark_circle(size=20, opacity=1, clip=True).encode(
        x=X, y=Y, color=alt.Color("s:N", scale=cscale, legend=None)))
    return alt.layer(*layers).properties(width=W, height=H)


cols = [alt.vconcat(ac_panel(i), dc_panel(i), spacing=4.2) for i in range(6)]
chart = alt.hconcat(*cols, spacing=0).properties(padding=0).configure_view(
    stroke="#262626", strokeWidth=1
).configure_axis(
    labelFont=FONT, labelFontSize=12.8, labelColor="black", titleFont=FONT, titleFontSize=12.8,
    titleFontWeight="normal", titleColor="black", tickColor="black", tickWidth=0.9, labelPadding=4
)

chart.save("out.html", embed_options={"renderer": "svg", "actions": False})
